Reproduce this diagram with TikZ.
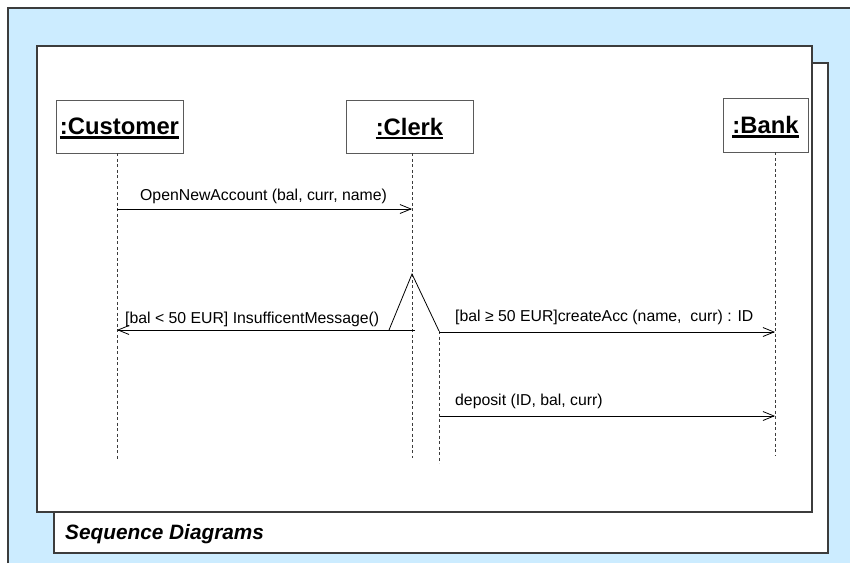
\documentclass[tikz,border=0pt]{standalone}
\usepackage{fontspec}
\setmainfont{Liberation Sans}
\usetikzlibrary{arrows.meta}
\definecolor{paneblue}{RGB}{204,236,255}
\definecolor{framegray}{RGB}{60,60,60}
\definecolor{boxgray}{RGB}{90,90,90}
\begin{document}
\begin{tikzpicture}[x=1pt,y=-1pt,
  frame/.style={draw=framegray,line width=1.4pt},
  page/.style={frame,fill=white},
  headbox/.style={draw=boxgray,line width=0.9pt,fill=white,inner sep=0pt},
  headtext/.style={inner sep=0pt,font=\fontsize{23.8}{28}\selectfont\bfseries},
  headline/.style={line width=2.6pt},
  lifeline/.style={draw=framegray,line width=0.8pt,dash pattern=on 3pt off 2.5pt},
  msg/.style={line width=0.8pt,-{Straight Barb[length=11pt,width=9pt,line width=0.8pt]}},
  plain/.style={line width=0.8pt},
  msgtext/.style={inner sep=0pt,anchor=base west,font=\fontsize{15.8}{19}\selectfont},
  titletext/.style={inner sep=0pt,anchor=base west,font=\fontsize{20.8}{25}\selectfont\bfseries\itshape}]
\useasboundingbox (0,0) rectangle (850,563);

% outer light-blue frame
\fill[paneblue] (8,8) rectangle (850,563);
\draw[frame] (8,563) -- (8,8) -- (850,8);

% stacked pages
\draw[page] (54,63) rectangle (828,553);
\draw[page] (37,46) rectangle (812,512);
\node[titletext] (title) at (65,539) {Sequence Diagrams};

% object headers
\node[headbox,minimum width=127pt,minimum height=53pt] (cust) at (119.5,126.5) {};
\node[headtext] (custT) at (cust) {:Customer};
\node[headbox,minimum width=127pt,minimum height=53pt] (clerk) at (409.5,126.5) {};
\node[headtext] (clerkT) at (clerk) {:Clerk};
\node[headbox,minimum width=85pt,minimum height=54pt] (bank) at (765.5,125) {};
\node[headtext] (bankT) at (bank) {:Bank};
\foreach \n in {custT,clerkT,bankT}
  \draw[headline] ([yshift=-3pt]\n.base west) -- ([yshift=-3pt]\n.base east);

% lifeline end points
\coordinate (custEnd) at (117,460);
\coordinate (clerkEnd) at (412,458);
\coordinate (bankEnd) at (775,456);
\coordinate (clerkB) at (439,331);
\coordinate (clerkBEnd) at (439,463);

\draw[lifeline] (cust.south -| custEnd) -- (custEnd);
\draw[lifeline] (clerk.south -| clerkEnd) -- (clerkEnd);
\draw[lifeline] (bank.south -| bankEnd) -- (bankEnd);
\draw[lifeline] (clerkB) -- (clerkBEnd);

% message anchor points
\coordinate (m1a) at (117,209);
\coordinate (m1b) at (412,209);
\coordinate (apex) at (412,274);
\coordinate (footL) at (389,330);
\coordinate (m2a) at (415,330);
\coordinate (m2b) at (117,330);
\coordinate (m3a) at (439,332);
\coordinate (m3b) at (775,332);
\coordinate (m4a) at (440,416);
\coordinate (m4b) at (775,416);

% messages
\draw[msg] (m1a) -- (m1b);
\node[msgtext] (l1) at (140,200) {OpenNewAccount (bal, curr, name)};

\draw[plain] (footL) -- (apex) -- (clerkB);
\draw[msg] (m2a) -- (m2b);
\node[msgtext] (l2) at (125,323) {[bal < 50 EUR] InsufficentMessage()};

\draw[msg] (m3a) -- (m3b);
\node[msgtext] (l3) at (455,321) {[bal ≥ 50 EUR]createAcc (name,~ curr) : ID};

\draw[msg] (m4a) -- (m4b);
\node[msgtext] (l4) at (455,405) {deposit (ID, bal, curr)};
\end{tikzpicture}
\end{document}
